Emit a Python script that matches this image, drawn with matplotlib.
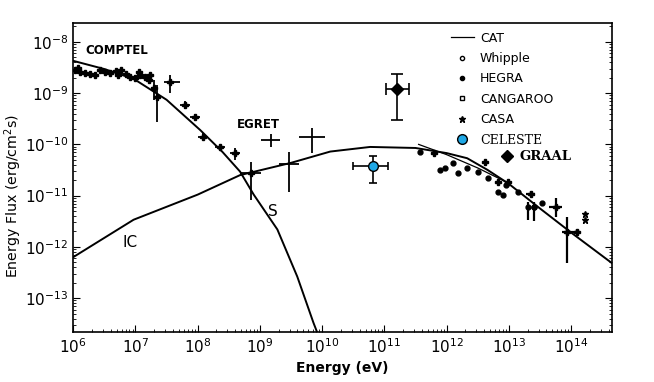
import matplotlib
matplotlib.use("Agg")
import matplotlib.pyplot as plt
import numpy as np
from matplotlib.lines import Line2D

# values, stored as log10(E [eV]) and log10(flux)
# synchrotron (S) and inverse Compton (IC) model curves
s_logE = [6.0, 6.5, 6.97, 7.5, 8.04, 8.4, 8.68, 8.9, 9.28, 9.6, 9.86, 9.93]
s_logF = [-8.37, -8.53, -8.72, -9.13, -9.72, -10.15, -10.53, -10.98, -11.66, -12.58, -13.48, -13.7]
ic_logE = [6.0, 6.97, 8.0, 8.68, 9.5, 10.13, 10.77, 11.5, 12.0, 12.33, 12.66, 13.0, 13.5, 14.0, 14.66]
ic_logF = [-12.2, -11.47, -10.98, -10.6, -10.36, -10.14, -10.05, -10.07, -10.17, -10.27, -10.5, -10.77, -11.25, -11.72, -12.32]
cat_logE = [11.55, 12.0, 12.5, 13.0]
cat_logF = [-10.0, -10.2, -10.46, -10.76]

# COMPTEL points
comptel_logE = [6.03, 6.08, 6.11, 6.19, 6.27, 6.35, 6.43, 6.51, 6.59, 6.68, 6.72, 6.76,
                6.84, 6.92, 7.0, 7.05, 7.08, 7.16, 7.21, 7.24]
comptel_logF = [-8.55, -8.51, -8.58, -8.6, -8.62, -8.64, -8.55, -8.58, -8.6, -8.57, -8.64, -8.55,
                -8.62, -8.68, -8.7, -8.58, -8.64, -8.68, -8.74, -8.64]

# points with error bars (MeV-GeV range): logE, logF, logE lo/hi, logF lo/hi
egret_logE = [7.29, 7.35, 7.56, 7.80, 7.96, 8.09, 8.36, 8.60, 8.85, 9.17, 9.46, 9.84]
egret_logF = [-8.90, -9.07, -8.78, -9.23, -9.46, -9.85, -10.05, -10.16, -10.55, -9.91, -10.38, -9.85]
egret_xlo = [7.25, 7.33, 7.46, 7.72, 7.88, 8.01, 8.28, 8.52, 8.68, 9.02, 9.30, 9.62]
egret_xhi = [7.33, 7.37, 7.72, 7.88, 8.04, 8.17, 8.44, 8.68, 9.01, 9.33, 9.62, 10.04]
egret_ylo = [-9.13, -9.56, -8.99, -9.30, -9.52, -9.92, -10.11, -10.30, -11.08, -10.05, -10.92, -10.16]
egret_yhi = [-8.74, -8.84, -8.64, -9.16, -9.40, -9.78, -9.99, -10.07, -10.34, -9.79, -10.14, -9.68]

# TeV points
hegra_logE = [11.58, 11.90, 11.98, 12.11, 12.19, 12.33, 12.50, 12.67, 12.82, 12.91, 12.95, 13.14, 13.40, 13.54]
hegra_logF = [-10.14, -10.50, -10.46, -10.36, -10.55, -10.46, -10.53, -10.65, -10.92, -10.98, -10.79, -10.92, -11.22, -11.14]
whipple_logE = [11.79, 12.62, 12.82, 12.98]
whipple_logF = [-10.16, -10.34, -10.73, -10.73]
cangaroo_logE = [13.35, 13.75, 13.94, 14.10]
cangaroo_logF = [-10.96, -11.22, -11.70, -11.70]
cangaroo_xlo = [13.28, 13.64, 13.86, 14.06]
cangaroo_xhi = [13.42, 13.86, 14.12, 14.14]
cangaroo_ylo = [-11.02, -11.41, -12.31, -11.74]
cangaroo_yhi = [-10.90, -11.04, -11.41, -11.66]
bar_logE = [13.30, 13.40]
bar_logF = [-11.22, -11.22]
bar_ylo = [-11.47, -11.50]
bar_yhi = [-11.12, -11.12]
casa_logE = [14.22, 14.23]
casa_logF = [-11.47, -11.35]

celeste_logE, celeste_logF = 10.81, -10.42
celeste_x = (10.50, 11.06)
celeste_y = (-10.75, -10.22)
graal_logE, graal_logF = 11.21, -8.92
graal_x = (11.02, 11.40)
graal_y = (-9.52, -8.62)


def p(v):
    return 10.0 ** np.asarray(v, dtype=float)


def errs(c, lo, hi):
    c = p(c)
    return [c - p(lo), p(hi) - c]


fig = plt.figure(figsize=(6.54, 3.82), dpi=100)
ax = fig.add_axes([0.112, 0.131, 0.824, 0.809])

ax.plot(p(s_logE), p(s_logF), color="black", lw=1.4)
ax.plot(p(ic_logE), p(ic_logF), color="black", lw=1.4)
ax.plot(p(cat_logE), p(cat_logF), color="black", lw=0.9)

ax.plot(p(comptel_logE), p(comptel_logF), "P", color="black", ms=4)
ax.errorbar(p(egret_logE), p(egret_logF),
            xerr=errs(egret_logE, egret_xlo, egret_xhi),
            yerr=errs(egret_logF, egret_ylo, egret_yhi),
            fmt="none", ecolor="black", elinewidth=1.3)
ax.plot(p(egret_logE[:9]), p(egret_logF[:9]), "P", color="black", ms=4)

ax.plot(p(hegra_logE), p(hegra_logF), "o", color="black", ms=3.5)
ax.plot(p(whipple_logE), p(whipple_logF), "P", color="black", ms=4)
ax.errorbar(p(cangaroo_logE), p(cangaroo_logF),
            xerr=errs(cangaroo_logE, cangaroo_xlo, cangaroo_xhi),
            yerr=errs(cangaroo_logF, cangaroo_ylo, cangaroo_yhi),
            fmt="P", color="black", ms=4, elinewidth=1.6)
ax.errorbar(p(bar_logE), p(bar_logF), yerr=errs(bar_logF, bar_ylo, bar_yhi),
            fmt="o", color="black", ms=3.5, elinewidth=1.6)
ax.plot(p(casa_logE), p(casa_logF), "*", color="black", ms=5)

ax.errorbar(p(celeste_logE), p(celeste_logF),
            xerr=[[p(celeste_logE) - p(celeste_x[0])], [p(celeste_x[1]) - p(celeste_logE)]],
            yerr=[[p(celeste_logF) - p(celeste_y[0])], [p(celeste_y[1]) - p(celeste_logF)]],
            fmt="o", ms=7, mfc="#1fa8e6", mec="black", ecolor="black",
            elinewidth=1.2, capsize=3, capthick=1.2)
ax.errorbar(p(graal_logE), p(graal_logF),
            xerr=[[p(graal_logE) - p(graal_x[0])], [p(graal_x[1]) - p(graal_logE)]],
            yerr=[[p(graal_logF) - p(graal_y[0])], [p(graal_y[1]) - p(graal_logF)]],
            fmt="D", ms=6, color="black", elinewidth=1.2, capsize=4, capthick=1.2)

ax.set_xscale("log")
ax.set_yscale("log")
ax.set_xlim(1e6, 10 ** 14.66)
ax.set_ylim(10 ** -13.66, 10 ** -7.63)
ax.set_xticks([10.0 ** k for k in range(6, 15)])
ax.set_yticks([10.0 ** k for k in range(-13, -7)])
ax.tick_params(which="both", direction="in", top=False, right=True, labelsize=11)
ax.tick_params(which="major", length=5)
ax.tick_params(which="minor", length=2.5)
for s in ax.spines.values():
    s.set_linewidth(1.2)

ax.set_xlabel("Energy (eV)", fontsize=10, fontweight="bold")
ax.set_ylabel("Energy Flux (erg/cm$^2$s)", fontsize=10.2)
ax.yaxis.set_label_coords(-0.092, 0.44)

ax.text(10 ** 6.2, 10 ** -8.16, "COMPTEL", fontsize=8.5, fontweight="bold", va="center")
ax.text(10 ** 8.97, 10 ** -9.62, "EGRET", fontsize=8.5, fontweight="bold", ha="center", va="center")
ax.text(10 ** 6.92, 10 ** -11.92, "IC", fontsize=11, ha="center", va="center")
ax.text(10 ** 9.2, 10 ** -11.31, "S", fontsize=11, ha="center", va="center")

handles = [
    Line2D([], [], color="black", lw=0.9),
    Line2D([], [], marker="o", ls="none", mfc="white", mec="black", ms=3),
    Line2D([], [], marker="o", ls="none", color="black", ms=3),
    Line2D([], [], marker="s", ls="none", mfc="white", mec="black", ms=3),
    Line2D([], [], marker="*", ls="none", color="black", ms=5),
    Line2D([], [], marker="o", ls="none", mfc="#1fa8e6", mec="black", ms=7),
]
labels = ["CAT", "Whipple", "HEGRA", "CANGAROO", "CASA", "CELESTE"]
leg = ax.legend(handles, labels, loc="upper left", bbox_to_anchor=(0.685, 1.0),
                frameon=False, fontsize=9, handlelength=1.8, handletextpad=0.5,
                labelspacing=0.59, borderaxespad=0.3)
leg.get_texts()[-1].set_family("DejaVu Serif")
ax.add_artist(leg)
leg2 = ax.legend([Line2D([], [], marker="D", ls="none", color="black", ms=6)], ["GRAAL"],
                 loc="upper left", bbox_to_anchor=(0.786, 0.605), frameon=False,
                 fontsize=9.5, handlelength=0.8, handletextpad=0.5, borderaxespad=0.0)
leg2.get_texts()[0].set_family("DejaVu Serif")
leg2.get_texts()[0].set_fontweight("bold")

fig.savefig("out.png", dpi=100)
